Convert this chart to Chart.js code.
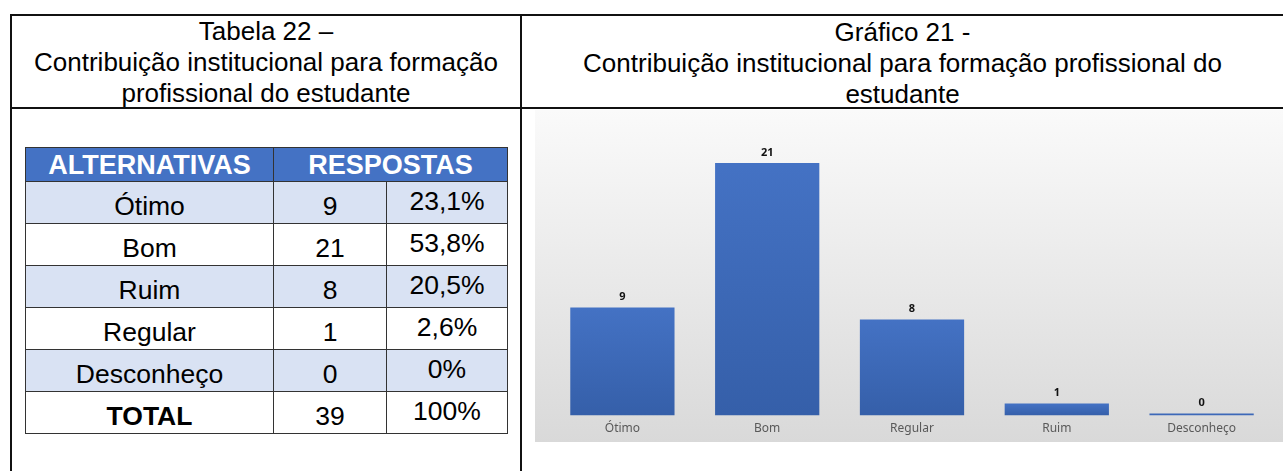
<!DOCTYPE html>
<html>
<head>
<meta charset="utf-8">
<script src="https://cdn.jsdelivr.net/npm/chart.js@4/dist/chart.umd.min.js"></script>
<style>
  html, body { margin:0; padding:0; background:#fff; width:1283px; height:471px; overflow:hidden; position:relative; }
  .line { position:absolute; background:#111; }
  .title { position:absolute; font-family:"Liberation Sans", Arial, sans-serif; font-size:26px; line-height:31px; color:#000; text-align:center; }
  #tbl { position:absolute; left:25px; top:147px; border-collapse:collapse; font-family:"Liberation Sans", Arial, sans-serif; font-size:26.5px; color:#000; }
  #tbl td, #tbl th { border:1.5px solid #333; padding:0; text-align:center; box-sizing:border-box; }
  #tbl th { background:#4472C4; color:#fff; font-weight:bold; font-size:27px; line-height:32px; }
  #tbl tr.head { height:34px; }
  #tbl tr.row { height:42px; }
  #tbl tr.shade td { background:#D9E2F3; }
  #tbl td.lab, #tbl td.cnt { padding-top:7px; }
  #tbl td.pct { padding-bottom:3px; }
  #chartBox { position:absolute; left:535px; top:110px; width:748px; height:332px; background:linear-gradient(to bottom, #fafafa 0%, #d9d9d9 100%); }
</style>
</head>
<body>
<div class="line" style="left:10px; top:14px; width:1273px; height:2px;"></div>
<div class="line" style="left:10px; top:14px; width:2px; height:457px;"></div>
<div class="line" style="left:520px; top:14px; width:2px; height:457px;"></div>
<div class="line" style="left:10px; top:107px; width:1273px; height:2px;"></div>

<div class="title" style="left:12px; top:16px; width:508px;">Tabela 22 –<br>Contribuição institucional para formação<br>profissional do estudante</div>
<div class="title" style="left:522px; top:17px; width:761px;">Gráfico 21 -<br>Contribuição institucional para formação profissional do<br>estudante</div>

<table id="tbl"></table>

<div id="chartBox"><canvas id="c" width="748" height="332" style="width:748px;height:332px;display:block;"></canvas></div>

<script>
const categories = ['Ótimo', 'Bom', 'Regular', 'Ruim', 'Desconheço'];
const values = [9, 21, 8, 1, 0];

const tableHeaders = ['ALTERNATIVAS', 'RESPOSTAS'];
const tableAlternatives = ['Ótimo', 'Bom', 'Ruim', 'Regular', 'Desconheço'];
const tableCounts = [9, 21, 8, 1, 0];
const tablePercents = ['23,1%', '53,8%', '20,5%', '2,6%', '0%'];
const totalLabel = 'TOTAL';
const totalCount = 39;
const totalPercent = '100%';

// Build table
(function () {
  const t = document.getElementById('tbl');
  let html = '<colgroup><col style="width:248px"><col style="width:113px"><col style="width:121px"></colgroup>';
  html += '<tr class="head"><th>' + tableHeaders[0] + '</th><th colspan="2">' + tableHeaders[1] + '</th></tr>';
  tableAlternatives.forEach(function (a, i) {
    html += '<tr class="row' + (i % 2 === 0 ? ' shade' : '') + '"><td class="lab">' + a + '</td><td class="cnt">' + tableCounts[i] + '</td><td class="pct">' + tablePercents[i] + '</td></tr>';
  });
  html += '<tr class="row"><td class="lab" style="font-weight:bold">' + totalLabel + '</td><td class="cnt">' + totalCount + '</td><td class="pct">' + totalPercent + '</td></tr>';
  t.innerHTML = html;
})();

const valueLabels = {
  id: 'valueLabels',
  afterDatasetsDraw(chart) {
    const ctx = chart.ctx;
    const meta = chart.getDatasetMeta(0);
    ctx.save();
    ctx.fillStyle = '#111';
    ctx.font = 'bold 11px "Noto Sans", sans-serif';
    ctx.textAlign = 'center';
    ctx.textBaseline = 'bottom';
    meta.data.forEach(function (bar, i) {
      ctx.fillText(String(chart.data.datasets[0].data[i]), bar.x, bar.y - 5);
    });
    ctx.restore();
  }
};

new Chart(document.getElementById('c'), {
  type: 'bar',
  data: {
    labels: categories,
    datasets: [{
      data: values,
      minBarLength: 2,
      backgroundColor: function (context) {
        const chart = context.chart;
        const yScale = chart.scales.y;
        if (!yScale || context.dataIndex === undefined) return '#3D68B8';
        const v = context.raw || 0;
        const top = yScale.getPixelForValue(v);
        const base = yScale.getPixelForValue(0);
        if (!isFinite(top) || !isFinite(base) || base - top < 1) return '#3D68B8';
        const g = chart.ctx.createLinearGradient(0, top, 0, base);
        g.addColorStop(0, '#4472C4');
        g.addColorStop(1, '#355FA9');
        return g;
      }
    }]
  },
  options: {
    responsive: false,
    animation: false,
    layout: { padding: { left: 15, right: 9, top: 17, bottom: 0 } },
    plugins: { legend: { display: false }, tooltip: { enabled: false } },
    scales: {
      x: {
        grid: { display: false, drawTicks: false },
        border: { display: false },
        ticks: { color: '#595959', padding: 6, font: { family: '"Noto Sans", sans-serif', size: 12 } }
      },
      y: { display: false, min: 0, max: 24 }
    }
  },
  plugins: [valueLabels]
});
</script>
</body>
</html>
